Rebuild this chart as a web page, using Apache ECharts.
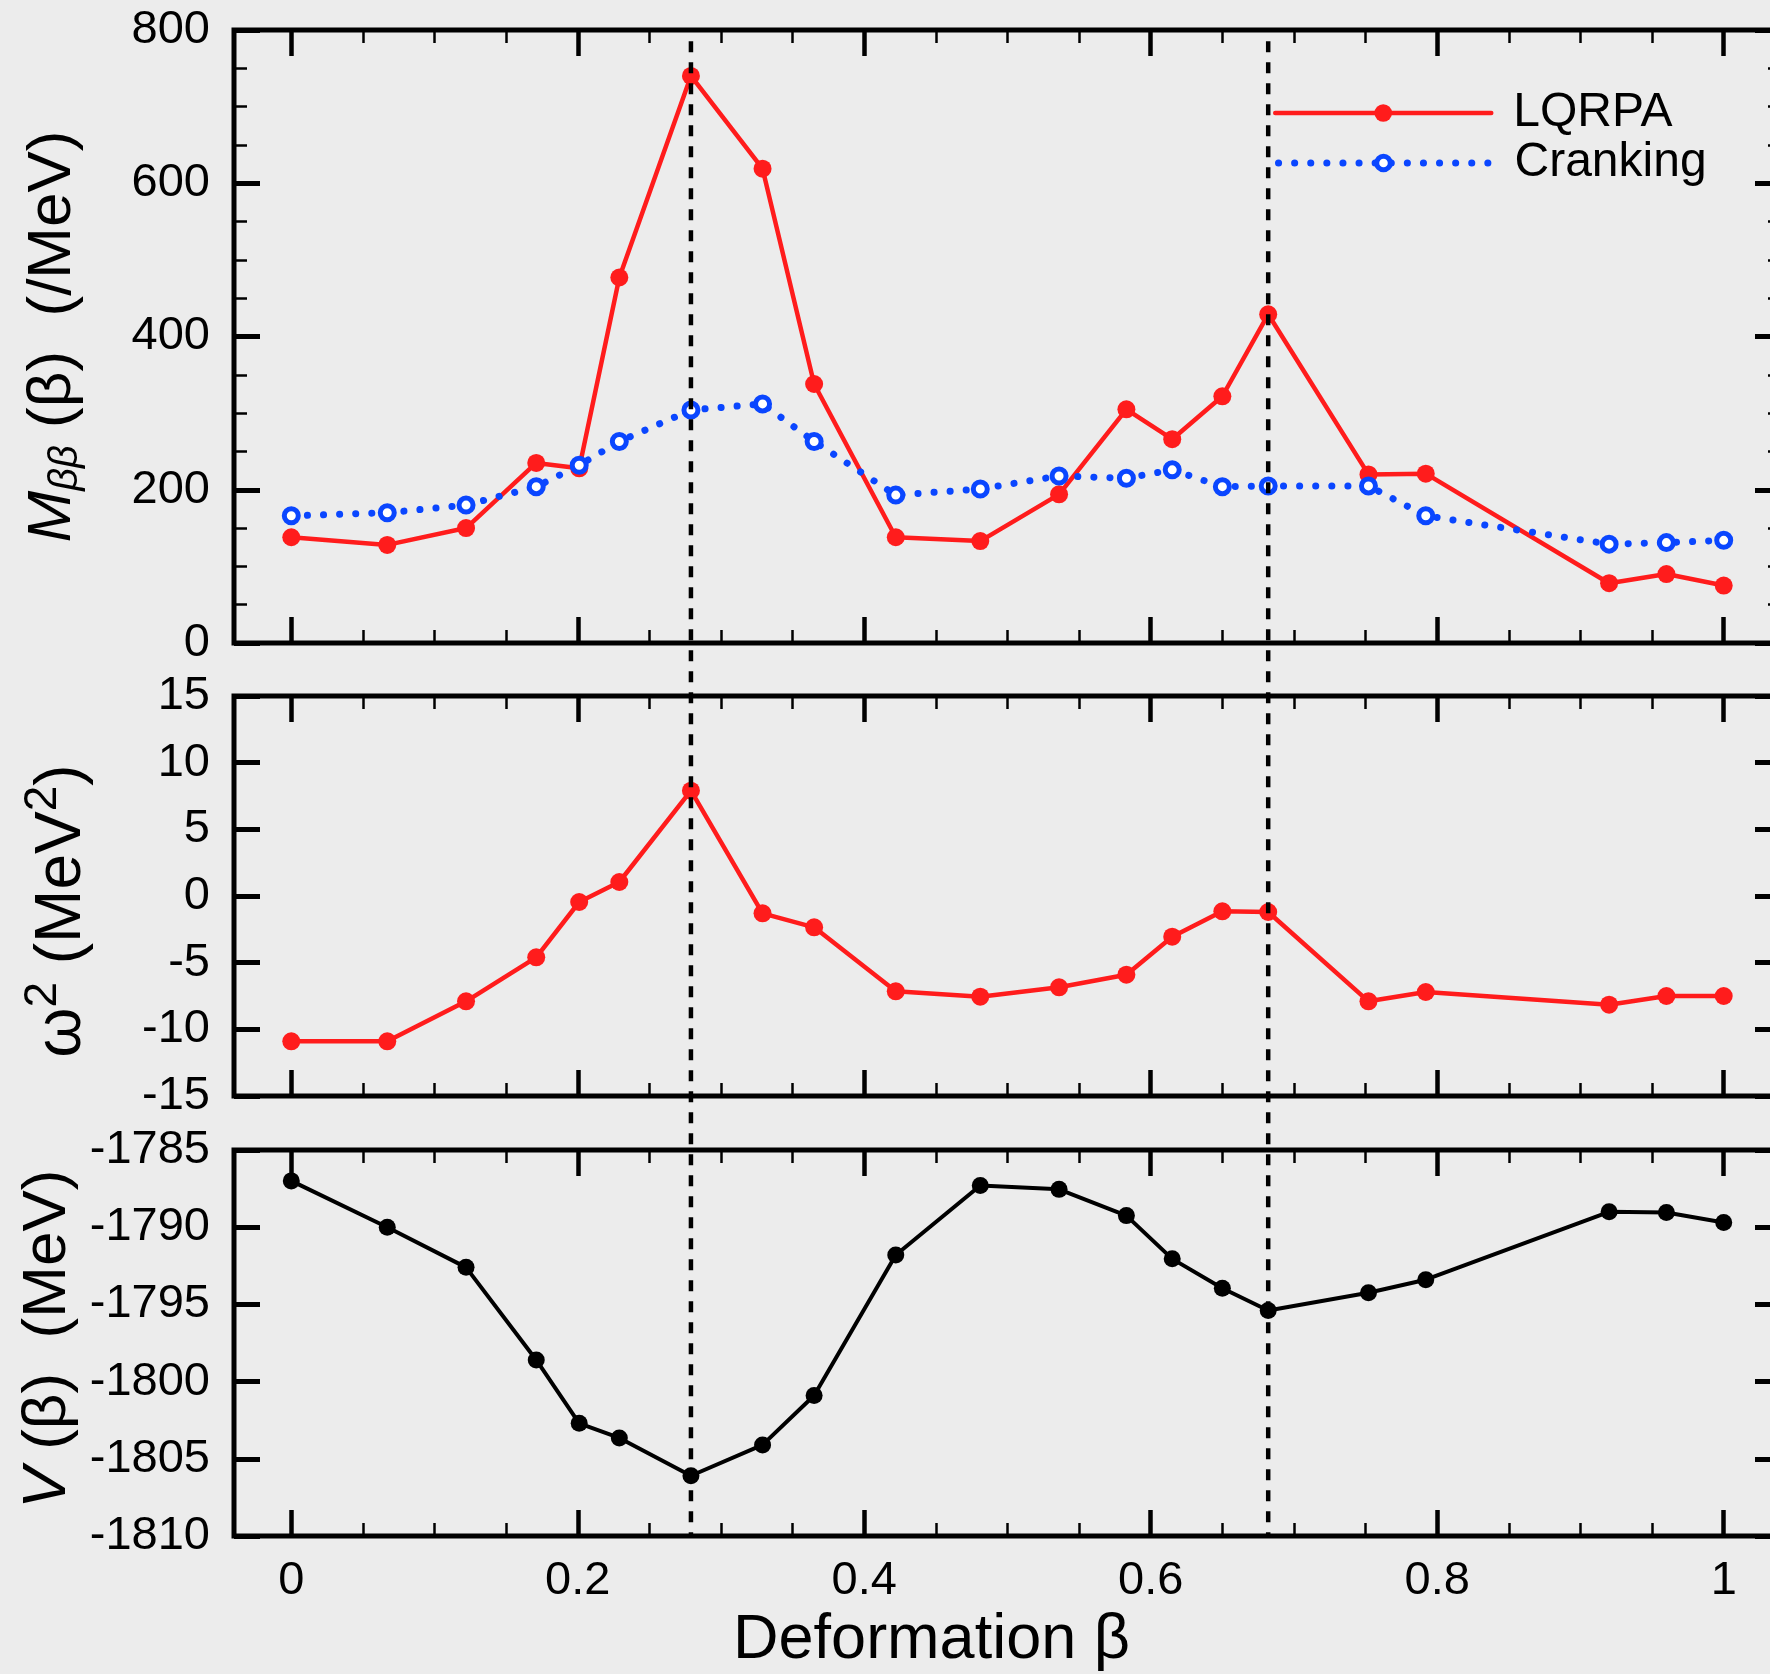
<!DOCTYPE html>
<html>
<head>
<meta charset="utf-8">
<title>Collective mass, curvature and potential vs deformation</title>
<script src="https://cdn.jsdelivr.net/npm/echarts@6/dist/echarts.min.js"></script>
<style>
  html, body { margin: 0; padding: 0; background: #ececec; }
  #chart { width: 1770px; height: 1674px; }
</style>
</head>
<body>
<div id="chart"></div>
<script>
// Deformation beta of each constrained calculation
const beta = [0, 0.067, 0.122, 0.171, 0.201, 0.229, 0.279, 0.329, 0.365, 0.422, 0.481,
              0.536, 0.583, 0.615, 0.650, 0.682, 0.752, 0.792, 0.920, 0.960, 1.0];

// Collective mass M_bb (1/MeV)
const lqrpaMass = [138, 128, 150, 235, 228, 477, 740, 619, 338, 138, 133,
                   194, 305, 266, 322, 429, 220, 221, 78, 90, 75];
const crankingMass = [166, 170, 180, 204, 232, 263, 304, 312, 263, 193, 201,
                      218, 215, 226, 204, 205, 205, 166, 129, 131, 134];

// Local curvature omega^2 (MeV^2)
const omegaSq = [-10.9, -10.9, -7.9, -4.6, -0.45, 1.05, 7.9, -1.3, -2.35, -7.15, -7.55,
                 -6.85, -5.9, -3.05, -1.15, -1.2, -7.9, -7.2, -8.15, -7.5, -7.5];

// Collective potential V (MeV)
const potential = [-1787.0, -1790.0, -1792.6, -1798.6, -1802.7, -1803.65, -1806.1, -1804.1, -1800.9, -1791.8, -1787.3,
                   -1787.55, -1789.25, -1792.05, -1793.95, -1795.4, -1794.25, -1793.4, -1789.0, -1789.05, -1789.7];

// Vertical guides through the two minima of V
const guides = [beta[6], beta[15]];

// Axis ticks
const xMajorTicks = [0, 0.2, 0.4, 0.6, 0.8, 1];
const xMinorTicks = [0.05, 0.1, 0.15, 0.25, 0.3, 0.35, 0.45, 0.5, 0.55, 0.65, 0.7, 0.75, 0.85, 0.9, 0.95];
const massRange = [0, 800], massStep = 200;
const omegaRange = [-15, 15], omegaStep = 5;
const potentialRange = [-1810, -1785], potentialStep = 5;
const xRange = [-0.04, 1.04];

const FONT = "'Liberation Sans', Arial, Helvetica, sans-serif";
const RED = '#ff1c1c';
const BLUE = '#0a46ff';
const BLACK = '#000000';

// plot frames; the right edge of the frames lies just outside the canvas
const GRID_LEFT = 234, GRID_WIDTH = 1547;
const panels = [
  { top: 30, height: 613 },
  { top: 696, height: 400 },
  { top: 1150, height: 386 }
];

const grid = panels.map(p => ({
  left: GRID_LEFT, width: GRID_WIDTH, top: p.top, height: p.height,
  outerBoundsMode: 'none', containLabel: false,
  show: true, borderColor: BLACK, borderWidth: 5, backgroundColor: 'transparent'
}));
// full-height grid carrying the guide lines across all three panels
grid.push({ left: GRID_LEFT, width: GRID_WIDTH, top: panels[0].top,
            height: panels[2].top + panels[2].height - panels[0].top,
            outerBoundsMode: 'none', containLabel: false, show: false });

const plainNumber = v => String(v);

function xAxesFor(gridIndex, position, withLabels, name) {
  const major = {
    type: 'value', gridIndex, position, min: xRange[0], max: xRange[1],
    axisLine: { show: false, onZero: false }, splitLine: { show: false },
    axisTick: { inside: true, length: 26, customValues: xMajorTicks,
                lineStyle: { width: 4.5, color: BLACK } },
    axisLabel: { show: withLabels, customValues: xMajorTicks, margin: 22, formatter: plainNumber,
                 fontSize: 47, color: BLACK, fontFamily: FONT }
  };
  if (name) {
    Object.assign(major, {
      name, nameLocation: 'middle', nameGap: 73,
      nameTextStyle: { fontSize: 63, color: BLACK, fontFamily: FONT, padding: [0, 152, 0, 0] }
    });
  }
  const minor = {
    type: 'value', gridIndex, position, min: xRange[0], max: xRange[1],
    axisLine: { show: false, onZero: false }, splitLine: { show: false },
    axisTick: { inside: true, length: 13, customValues: xMinorTicks,
                lineStyle: { width: 2.5, color: BLACK } },
    axisLabel: { show: false }
  };
  return [major, minor];
}

function yAxesFor(gridIndex, range, step, withMinor, title) {
  const make = (position) => ({
    type: 'value', gridIndex, position, min: range[0], max: range[1], interval: step,
    axisLine: { show: false, onZero: false }, splitLine: { show: false },
    axisTick: { inside: true, length: 26, lineStyle: { width: 5, color: BLACK } },
    minorTick: { show: withMinor, splitNumber: 4, length: 13, lineStyle: { width: 2.5, color: BLACK } }
  });
  const left = make('left');
  left.axisLabel = { margin: 24, fontSize: 47, color: BLACK, fontFamily: FONT, formatter: plainNumber };
  Object.assign(left, title);
  const right = make('right');
  right.axisLabel = { show: false };
  return [left, right];
}

const baseName = { color: BLACK, fontFamily: FONT };

const massTitle = {
  name: '{it|M}{sub|ββ}{rm| (β)  (/MeV)}',
  nameLocation: 'middle', nameRotate: 90, nameGap: 150,
  nameTextStyle: {
    rich: {
      it: Object.assign({}, baseName, { fontSize: 62, fontStyle: 'italic', lineHeight: 62 }),
      sub: Object.assign({}, baseName, { fontSize: 40, fontStyle: 'italic', lineHeight: 62, height: 36, verticalAlign: 'bottom' }),
      rm: Object.assign({}, baseName, { fontSize: 62, lineHeight: 62 })
    }
  }
};

const omegaTitle = {
  name: '{rm|ω}{sup|2}{rm| (MeV}{sup|2}{rm|)}',
  nameLocation: 'middle', nameRotate: 90, nameGap: 140,
  nameTextStyle: {
    padding: [0, 30, 0, 0],
    rich: {
      rm: Object.assign({}, baseName, { fontSize: 64, lineHeight: 64 }),
      sup: Object.assign({}, baseName, { fontSize: 46, lineHeight: 64, height: 26, verticalAlign: 'top' })
    }
  }
};

const potentialTitle = {
  name: '{it|V}{rm| (β)  (MeV)}',
  nameLocation: 'middle', nameRotate: 90, nameGap: 150,
  nameTextStyle: {
    padding: [0, 0, 0, 8],
    rich: {
      it: Object.assign({}, baseName, { fontSize: 62, fontStyle: 'italic', lineHeight: 62 }),
      rm: Object.assign({}, baseName, { fontSize: 62, lineHeight: 62 })
    }
  }
};

const xAxis = [].concat(
  xAxesFor(0, 'bottom', false), xAxesFor(0, 'top', false),
  xAxesFor(1, 'bottom', false), xAxesFor(1, 'top', false),
  xAxesFor(2, 'bottom', true, 'Deformation β'), xAxesFor(2, 'top', false),
  [{ type: 'value', gridIndex: 3, min: xRange[0], max: xRange[1], show: false }]
);
const yAxis = [].concat(
  yAxesFor(0, massRange, massStep, true, massTitle),
  yAxesFor(1, omegaRange, omegaStep, false, omegaTitle),
  yAxesFor(2, potentialRange, potentialStep, false, potentialTitle),
  [{ type: 'value', gridIndex: 3, min: 0, max: 1, show: false }]
);

const pairs = ys => beta.map((b, i) => [b, ys[i]]);

const series = [
  {
    name: 'LQRPA', type: 'line', xAxisIndex: 0, yAxisIndex: 0,
    data: pairs(lqrpaMass), symbol: 'circle', symbolSize: 18,
    itemStyle: { color: RED }, lineStyle: { color: RED, width: 4.5 }, z: 3
  },
  {
    name: 'Cranking', type: 'line', xAxisIndex: 0, yAxisIndex: 0,
    data: pairs(crankingMass), symbol: 'circle', symbolSize: 14,
    itemStyle: { color: '#ffffff', borderColor: BLUE, borderWidth: 5 },
    lineStyle: { color: BLUE, width: 7, type: [0.1, 16], cap: 'round' }, z: 4
  },
  {
    name: 'omega2', type: 'line', xAxisIndex: 4, yAxisIndex: 2,
    data: pairs(omegaSq), symbol: 'circle', symbolSize: 18,
    itemStyle: { color: RED }, lineStyle: { color: RED, width: 4.5 }, z: 3
  },
  {
    name: 'potential', type: 'line', xAxisIndex: 8, yAxisIndex: 4,
    data: pairs(potential), symbol: 'circle', symbolSize: 17,
    itemStyle: { color: BLACK }, lineStyle: { color: BLACK, width: 4 }, z: 3
  }
].concat(guides.map(g => ({
  name: 'guide', type: 'line', xAxisIndex: 12, yAxisIndex: 6,
  data: [[g, 1], [g, 0]], symbol: 'none', silent: true,
  lineStyle: { color: BLACK, width: 4.5, type: [11, 10], dashOffset: 9.7 }, z: 10
})));

const legendText = (pad) => ({ fontSize: 48, color: BLACK, fontFamily: FONT, padding: [0, 0, 0, pad] });

const legend = [
  {
    data: ['LQRPA'], left: 1273, top: 89, padding: 0,
    itemWidth: 216, itemHeight: 22, selectedMode: false,
    lineStyle: { color: RED, width: 4.5, cap: 'round' },
    itemStyle: { color: RED, borderWidth: 0 },
    textStyle: legendText(17)
  },
  {
    data: ['Cranking'], left: 1275, top: 139, padding: 0,
    itemWidth: 210, itemHeight: 17, selectedMode: false,
    lineStyle: { color: BLUE, width: 7, type: [0.1, 16], cap: 'round' },
    itemStyle: { color: '#ffffff', borderColor: BLUE, borderWidth: 5 },
    textStyle: legendText(21)
  }
];

const chart = echarts.init(document.getElementById('chart'), null, { renderer: 'canvas' });
chart.setOption({
  backgroundColor: '#ececec',
  animation: false,
  textStyle: { fontFamily: FONT },
  grid, xAxis, yAxis, legend, series
});
</script>
</body>
</html>
